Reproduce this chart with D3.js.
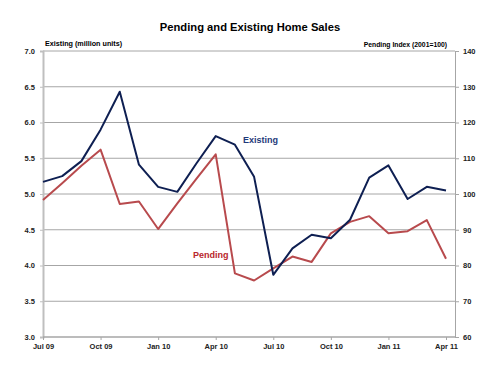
<!DOCTYPE html>
<html>
<head>
<meta charset="utf-8">
<script src="https://cdn.jsdelivr.net/npm/d3@7"></script>
<style>
  body { margin: 0; background: #fff; }
  svg { font-family: Arial, "Liberation Sans", sans-serif; }
</style>
</head>
<body>
<div id="chart"></div>
<script>
/* Pending and Existing Home Sales — dual-axis monthly line chart */

const months = ["Jul 09","Aug 09","Sep 09","Oct 09","Nov 09","Dec 09","Jan 10","Feb 10","Mar 10","Apr 10","May 10","Jun 10",
  "Jul 10","Aug 10","Sep 10","Oct 10","Nov 10","Dec 10","Jan 11","Feb 11","Mar 11","Apr 11"];
const tickMonths = ["Jul 09","Oct 09","Jan 10","Apr 10","Jul 10","Oct 10","Jan 11","Apr 11"];

// million units (left axis)
const existing = [5.17, 5.25, 5.46, 5.90, 6.43, 5.41, 5.10, 5.03, 5.43, 5.81, 5.69, 5.24,
  3.87, 4.24, 4.43, 4.38, 4.64, 5.23, 5.40, 4.93, 5.10, 5.05];
// index, 2001=100 (right axis)
const pending = [98.3, 103.0, 107.9, 112.4, 97.2, 97.9, 90.2, 97.4, 104.3, 111.1, 77.8, 75.8,
  79.2, 82.5, 81.0, 89.0, 92.2, 93.8, 89.0, 89.6, 92.7, 81.9];

const leftTicks = [3.0, 3.5, 4.0, 4.5, 5.0, 5.5, 6.0, 6.5, 7.0];
const rightTicks = [60, 70, 80, 90, 100, 110, 120, 130, 140];

const width = 500, height = 375;
const plot = { left: 43, right: 455, top: 51, bottom: 337 };

const svg = d3.select("#chart").append("svg")
  .attr("width", width)
  .attr("height", height);

const x = d3.scalePoint()
  .domain(months)
  .range([plot.left, 446]);

const yL = d3.scaleLinear().domain([3, 7]).range([plot.bottom, plot.top]);
const yR = d3.scaleLinear().domain([60, 140]).range([plot.bottom, plot.top]);

// Title
svg.append("text")
  .attr("x", 250).attr("y", 31)
  .attr("text-anchor", "middle")
  .attr("font-size", 11.2).attr("font-weight", "bold")
  .attr("fill", "#000")
  .text("Pending and Existing Home Sales");

// Axis titles
svg.append("text")
  .attr("x", 45).attr("y", 46)
  .attr("font-size", 7.2).attr("font-weight", "bold")
  .text("Existing (million units)");
svg.append("text")
  .attr("x", 447).attr("y", 47)
  .attr("text-anchor", "end")
  .attr("font-size", 6.8).attr("font-weight", "bold")
  .text("Pending Index (2001=100)");

// Gridlines
svg.append("g").selectAll("line")
  .data(leftTicks.slice(1))
  .join("line")
  .attr("x1", plot.left).attr("x2", plot.right)
  .attr("y1", d => yL(d)).attr("y2", d => yL(d))
  .attr("stroke", "#a6a6a6").attr("stroke-width", 1);

// Left axis
const leftAxis = svg.append("g")
  .attr("transform", `translate(${plot.left},0)`)
  .call(d3.axisLeft(yL).tickValues(leftTicks).tickFormat(d3.format(".1f")).tickSize(3).tickPadding(5));
leftAxis.select(".domain").attr("stroke", "#bfbfbf").attr("stroke-width", 2);
leftAxis.selectAll(".tick line").attr("stroke", "#bfbfbf");
leftAxis.selectAll("text").attr("font-size", 7.5).attr("font-weight", "bold").attr("fill", "#222")
  .attr("font-family", "Arial, 'Liberation Sans', sans-serif");

// Right axis
const rightAxis = svg.append("g")
  .attr("transform", `translate(${plot.right},0)`)
  .call(d3.axisRight(yR).tickValues(rightTicks).tickSize(4).tickPadding(4));
rightAxis.select(".domain").attr("stroke", "#a6a6a6").attr("stroke-width", 1);
rightAxis.selectAll(".tick line").attr("stroke", "#a6a6a6");
rightAxis.selectAll("text").attr("font-size", 7.5).attr("font-weight", "bold").attr("fill", "#222")
  .attr("font-family", "Arial, 'Liberation Sans', sans-serif");

// Bottom axis
const bottomAxis = svg.append("g")
  .attr("transform", `translate(0,${plot.bottom})`)
  .call(d3.axisBottom(x).tickValues(tickMonths).tickSize(3).tickPadding(4));
bottomAxis.select(".domain").attr("stroke", "#a6a6a6").attr("stroke-width", 1.5)
  .attr("d", `M${plot.left},0H${plot.right}`);
bottomAxis.selectAll(".tick line").attr("stroke", "#a6a6a6");
bottomAxis.selectAll("text").attr("font-size", 7.5).attr("font-weight", "bold").attr("fill", "#222")
  .attr("font-family", "Arial, 'Liberation Sans', sans-serif");

// Lines
const pendingLine = d3.line()
  .x((d, i) => x(months[i]))
  .y(d => yR(d));
const existingLine = d3.line()
  .x((d, i) => x(months[i]))
  .y(d => yL(d));

svg.append("path")
  .datum(pending)
  .attr("d", pendingLine)
  .attr("fill", "none")
  .attr("stroke", "#b84a4d")
  .attr("stroke-width", 2)
  .attr("stroke-linejoin", "round");

svg.append("path")
  .datum(existing)
  .attr("d", existingLine)
  .attr("fill", "none")
  .attr("stroke", "#0e1f52")
  .attr("stroke-width", 2)
  .attr("stroke-linejoin", "round");

// Series labels
svg.append("text")
  .attr("x", 243).attr("y", 143)
  .attr("font-size", 9).attr("font-weight", "bold")
  .attr("fill", "#1f3a7a")
  .text("Existing");
svg.append("text")
  .attr("x", 193).attr("y", 258)
  .attr("font-size", 9).attr("font-weight", "bold")
  .attr("fill", "#b8262c")
  .text("Pending");
</script>
</body>
</html>
